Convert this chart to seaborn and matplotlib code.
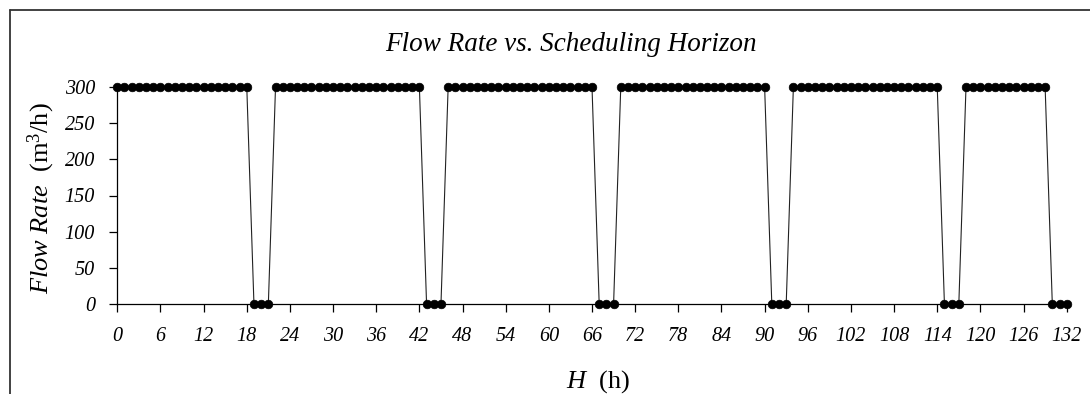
import matplotlib
matplotlib.use("Agg")
import matplotlib.pyplot as plt
import seaborn as sns
import pandas as pd
from matplotlib.lines import Line2D

# ---- data ----
flow_rate = [
    300, 300, 300, 300, 300, 300, 300, 300, 300, 300,
    300, 300, 300, 300, 300, 300, 300, 300, 300, 0,
    0, 0, 300, 300, 300, 300, 300, 300, 300, 300,
    300, 300, 300, 300, 300, 300, 300, 300, 300, 300,
    300, 300, 300, 0, 0, 0, 300, 300, 300, 300,
    300, 300, 300, 300, 300, 300, 300, 300, 300, 300,
    300, 300, 300, 300, 300, 300, 300, 0, 0, 0,
    300, 300, 300, 300, 300, 300, 300, 300, 300, 300,
    300, 300, 300, 300, 300, 300, 300, 300, 300, 300,
    300, 0, 0, 0, 300, 300, 300, 300, 300, 300,
    300, 300, 300, 300, 300, 300, 300, 300, 300, 300,
    300, 300, 300, 300, 300, 0, 0, 0, 300, 300,
    300, 300, 300, 300, 300, 300, 300, 300, 300, 300,
    0, 0, 0,
]
hours = list(range(len(flow_rate)))
x_ticks = [0, 6, 12, 18, 24, 30, 36, 42, 48, 54, 60, 66, 72, 78, 84, 90,
           96, 102, 108, 114, 120, 126, 132]
y_ticks = [0, 50, 100, 150, 200, 250, 300]
title_text = "Flow Rate vs. Scheduling Horizon"

df = pd.DataFrame({"H": hours, "Flow": flow_rate})

sns.set_theme(style="white")
plt.rcParams["font.family"] = ["Liberation Serif", "DejaVu Serif"]
plt.rcParams["mathtext.fontset"] = "custom"
plt.rcParams["mathtext.rm"] = "Liberation Serif"
plt.rcParams["mathtext.it"] = "Liberation Serif:italic"
for key in ["text.color", "axes.labelcolor", "xtick.color", "ytick.color", "axes.edgecolor"]:
    plt.rcParams[key] = "black"

fig = plt.figure(figsize=(10.9, 3.94), dpi=100)
ax = fig.add_axes([117.3 / 1090, 1 - 304.3 / 394, (1066.7 - 117.3) / 1090, (304.3 - 86.7) / 394])

sns.lineplot(data=df, x="H", y="Flow", ax=ax, color="#222222", linewidth=0.8,
             marker="o", markersize=6.2, markeredgecolor="black",
             markerfacecolor="black", markeredgewidth=0.5)
for ln in ax.lines:
    ln.set_clip_on(False)

ax.set_xlim(0, 132)
ax.set_ylim(0, 300)
ax.set_xticks(x_ticks)
ax.set_yticks(y_ticks)
ax.set_xticklabels([str(t) for t in x_ticks], fontstyle="italic", fontsize=14.5)
ax.set_yticklabels([str(t) for t in y_ticks], fontstyle="italic", fontsize=14.5)
ax.tick_params(axis="x", direction="out", length=6, width=0.9, color="black",
               labelcolor="black", pad=10, bottom=True)
ax.tick_params(axis="y", direction="out", length=6, width=0.9, color="black",
               labelcolor="black", pad=10, left=True)

for side in ["top", "right"]:
    ax.spines[side].set_visible(False)
for side in ["left", "bottom"]:
    ax.spines[side].set_color("black")
    ax.spines[side].set_linewidth(0.9)

ax.set_xlabel(r"$\mathit{H}$  (h)", fontsize=19, color="black")
ax.xaxis.label.set_va("baseline")
ax.xaxis.set_label_coords(0.506, -0.385)
ax.set_ylabel(r"$\mathit{Flow\ Rate}$  (m$^{3}$/h)", fontsize=19, color="black")
ax.yaxis.label.set_va("center")
ax.yaxis.set_label_coords(-0.0804, 0.488)

fig.text(571 / 1090, 1 - 50.7 / 394, title_text, ha="center", va="baseline",
         fontsize=19.5, fontstyle="italic", color="black")

# outer frame (top and left edges visible in the reference)
fig.add_artist(Line2D([10 / 1090, 10 / 1090], [0, 1 - 10 / 394], transform=fig.transFigure,
                      color="#333333", linewidth=1.3))
fig.add_artist(Line2D([10 / 1090, 1], [1 - 10 / 394, 1 - 10 / 394], transform=fig.transFigure,
                      color="#333333", linewidth=1.3))

fig.savefig("out.png", dpi=100, facecolor="white")
